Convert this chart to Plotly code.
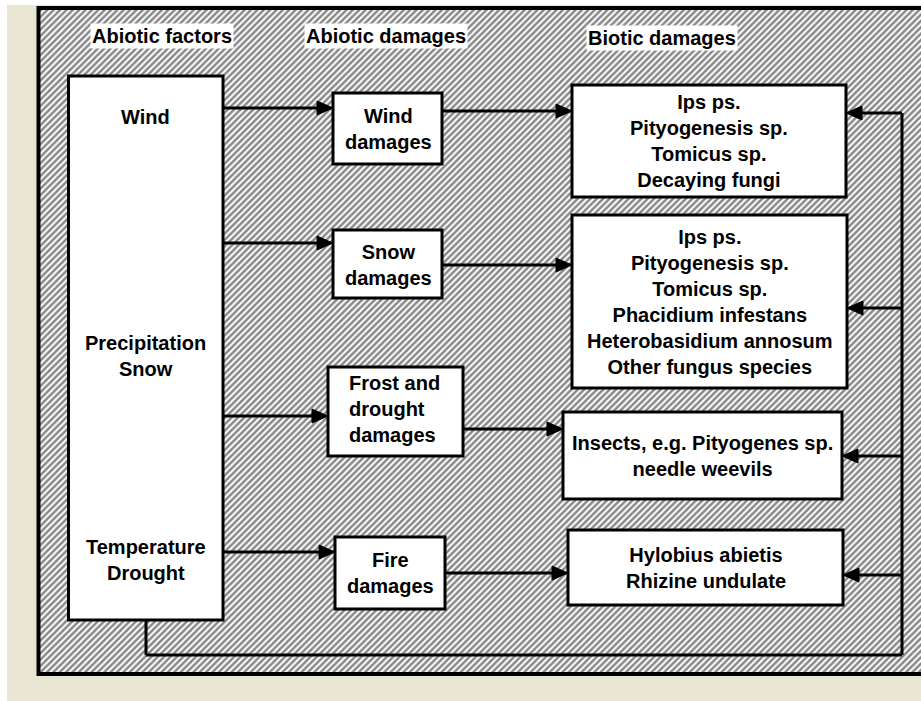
import plotly.graph_objects as go

# ---- text content ----
headers = ["Abiotic factors", "Abiotic damages", "Biotic damages"]
abiotic_factors = ["Wind", "Precipitation<br>Snow", "Temperature<br>Drought"]
abiotic_damages = ["Wind<br>damages", "Snow<br>damages", "Frost and<br>drought<br>damages", "Fire<br>damages"]
biotic_damages = [
    "Ips ps.<br>Pityogenesis sp.<br>Tomicus sp.<br>Decaying fungi",
    "Ips ps.<br>Pityogenesis sp.<br>Tomicus sp.<br>Phacidium infestans<br>Heterobasidium annosum<br>Other fungus species",
    "Insects, e.g. Pityogenes sp.<br>needle weevils",
    "Hylobius abietis<br>Rhizine undulate",
]

W, H = 921, 701
FONT = "Arial, Liberation Sans, sans-serif"

# ---- layout geometry (pixel space) ----
frame = (38.5, 8, 930, 674)
left_box = (68.5, 76, 223, 620)
factor_y = [117, 356, 560]
dmg_boxes = [(333, 93, 442, 164), (333, 230, 442, 298), (328, 367, 463, 456), (335, 537, 445, 609)]
dmg_text = [(388, 129, "center"), (388, 265, "center"), (347, 409, "left"), (390, 573, "center")]
bio_boxes = [(572, 85, 846, 197), (572, 215, 847, 388), (563, 412, 842, 499), (568, 530, 843, 605)]
in_arrow_y = [108, 243, 416, 552]
mid_arrow_y = [111, 265, 429, 573]
back_arrow_y = [113, 308, 456, 575]
loop_x_left, loop_y, loop_x_right = 146, 655, 902

fig = go.Figure()

# hatched background inside the frame
fig.add_trace(go.Scatter(
    x=[frame[0], frame[2], frame[2], frame[0], frame[0]],
    y=[frame[1], frame[1], frame[3], frame[3], frame[1]],
    mode="lines", fill="toself", line=dict(width=0),
    fillcolor="white",
    fillpattern=dict(shape="/", size=4.5, solidity=0.55, fgcolor="#111111", bgcolor="white"),
    hoverinfo="skip", showlegend=False,
))

shapes = []
# beige page
shapes.append(dict(type="rect", xref="x", yref="y", x0=7, y0=5, x1=W + 5, y1=H + 5,
                   fillcolor="#E8E6D3", line=dict(width=0), layer="below"))
# frame border
shapes.append(dict(type="rect", xref="x", yref="y", x0=frame[0], y0=frame[1], x1=frame[2], y1=frame[3],
                   line=dict(color="black", width=4), fillcolor="rgba(0,0,0,0)"))


def box(b):
    shapes.append(dict(type="rect", xref="x", yref="y", x0=b[0], y0=b[1], x1=b[2], y1=b[3],
                       fillcolor="white", line=dict(color="black", width=3)))


def line(x0, y0, x1, y1):
    shapes.append(dict(type="line", xref="x", yref="y", x0=x0, y0=y0, x1=x1, y1=y1,
                       line=dict(color="black", width=3)))


def arrow(x0, x1, y, L=16, hw=7):
    d = 1 if x1 > x0 else -1
    line(x0, y, x1 - d * (L - 2), y)
    shapes.append(dict(type="path", xref="x", yref="y",
                       path=f"M{x1},{y} L{x1 - d * L},{y - hw} L{x1 - d * L},{y + hw} Z",
                       fillcolor="black", line=dict(color="black", width=1)))


box(left_box)
for b in dmg_boxes:
    box(b)
for b in bio_boxes:
    box(b)

for i, b in enumerate(dmg_boxes):
    arrow(left_box[2], b[0], in_arrow_y[i])
    arrow(b[2], bio_boxes[i][0], mid_arrow_y[i])

# feedback loop
line(loop_x_left, left_box[3], loop_x_left, loop_y)
line(loop_x_left, loop_y, loop_x_right, loop_y)
line(loop_x_right, loop_y, loop_x_right, back_arrow_y[0])
for i, b in enumerate(bio_boxes):
    arrow(loop_x_right, b[2], back_arrow_y[i])

annotations = []
hdr_pos = [(162, 36), (386, 36), (662, 38)]
for t, (x, y) in zip(headers, hdr_pos):
    annotations.append(dict(x=x, y=y, text=t, showarrow=False, bgcolor="white", borderpad=1,
                            font=dict(family=FONT, size=20, color="black", weight="bold")))

lx = (left_box[0] + left_box[2]) / 2
for t, y in zip(abiotic_factors, factor_y):
    annotations.append(dict(x=lx, y=y, text=t, showarrow=False,
                            font=dict(family=FONT, size=20, color="black", weight="bold")))

for t, (x, y, al) in zip(abiotic_damages, dmg_text):
    annotations.append(dict(x=x, y=y, text=t, showarrow=False, align=al,
                            xanchor="left" if al == "left" else "center",
                            font=dict(family=FONT, size=20, color="black", weight="bold")))

for t, b in zip(biotic_damages, bio_boxes):
    annotations.append(dict(x=(b[0] + b[2]) / 2, y=(b[1] + b[3]) / 2, text=t, showarrow=False,
                            font=dict(family=FONT, size=20, color="black", weight="bold")))

fig.update_layout(
    width=W, height=H, autosize=False,
    margin=dict(l=0, r=0, t=0, b=0),
    paper_bgcolor="white", plot_bgcolor="white",
    xaxis=dict(range=[0, W], visible=False, fixedrange=True),
    yaxis=dict(range=[H, 0], visible=False, fixedrange=True),
    shapes=shapes, annotations=annotations,
    showlegend=False,
)

fig.write_html("out.html", config={"displayModeBar": False},
               post_script="document.body.style.margin='0';document.body.style.overflow='hidden';")
